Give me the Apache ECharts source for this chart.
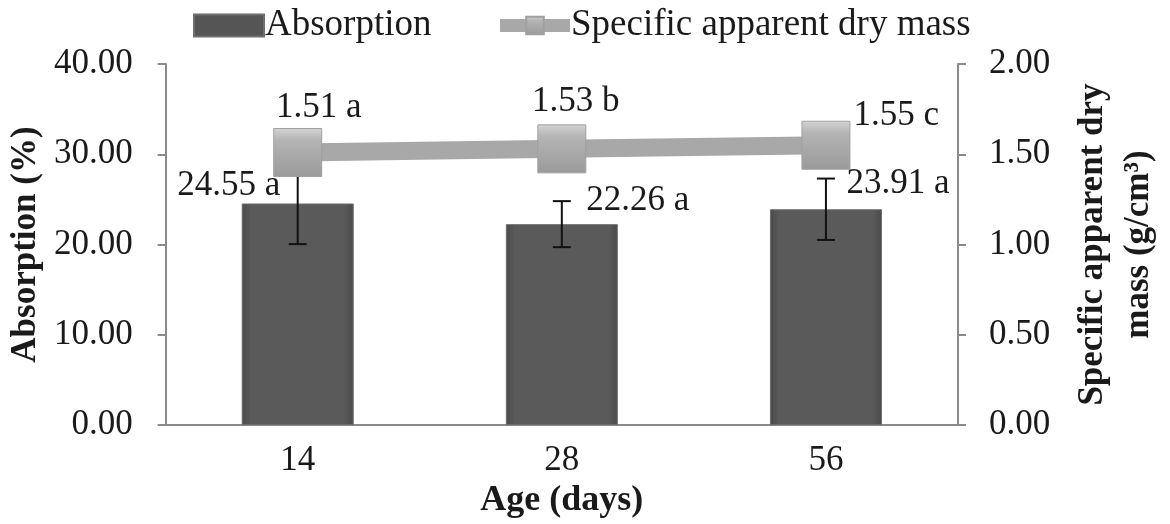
<!DOCTYPE html>
<html>
<head>
<meta charset="utf-8">
<script src="https://cdn.jsdelivr.net/npm/echarts@6/dist/echarts.min.js"></script>
<style>html,body{margin:0;padding:0;background:#fff;overflow:hidden;}#c{width:1170px;height:524px;}</style>
</head>
<body>
<div id="c"></div>
<script>
const categories = ['14', '28', '56'];
const absorption = [24.55, 22.26, 23.91];
const absorptionSD = [4.5, 2.55, 3.4];
const absorptionLetters = ['a', 'a', 'a'];
const density = [1.51, 1.53, 1.55];
const densityLetters = ['a', 'b', 'c'];

const FONT = 'Liberation Serif';
const TXT = '#1a1a1a';
const AX = '#8a8a8a';

// label placement (style only)
const barLabelOffsets = [[-69, 4], [76, -2], [72, -4]];
const lineLabelPos = ['top', 'top', 'right'];
const lineLabelOffsets = [[21, 2], [14, 0], [-2, -29]];

const chart = echarts.init(document.getElementById('c'));
const option = {
  animation: false,
  backgroundColor: '#fff',
  grid: {left: 161, right: 194, top: 64, bottom: 96},
  legend: {
    top: 2, left: 188, itemGap: 62, itemWidth: 70, itemHeight: 22,
    textStyle: {fontFamily: FONT, fontSize: 37, color: TXT, padding: [0, 0, 0, -4]},
    data: [
      {name: 'Absorption', icon: 'rect', itemStyle: {color: '#555'}},
      {name: 'Specific apparent dry mass', lineStyle: {width: 13, color: '#a8a8a8'}}
    ]
  },
  xAxis: {
    type: 'category', data: categories,
    name: 'Age (days)', nameLocation: 'middle', nameGap: 52,
    nameTextStyle: {fontFamily: FONT, fontSize: 36, fontWeight: 'bold', color: TXT},
    axisLine: {lineStyle: {color: AX, width: 2}},
    axisTick: {length: 11, lineStyle: {color: AX, width: 2}},
    axisLabel: {fontFamily: FONT, fontSize: 35, color: TXT, margin: 18}
  },
  yAxis: [
    {
      type: 'value', min: 0, max: 40, interval: 10,
      name: 'Absorption (%)', nameLocation: 'middle', nameGap: 118,
      nameTextStyle: {fontFamily: FONT, fontSize: 35, fontWeight: 'bold', color: TXT},
      axisLine: {show: true, lineStyle: {color: AX, width: 2}},
      axisTick: {show: true, length: 8, lineStyle: {color: AX, width: 2}},
      splitLine: {show: false},
      axisLabel: {fontFamily: FONT, fontSize: 35, color: TXT, margin: 33, formatter: v => v.toFixed(2)}
    },
    {
      type: 'value', min: 0, max: 2, interval: 0.5, position: 'right',
      name: 'Specific apparent dry\nmass (g/cm³)', nameLocation: 'middle', nameGap: 112,
      nameTextStyle: {fontFamily: FONT, fontSize: 35, fontWeight: 'bold', color: TXT, lineHeight: 46},
      axisLine: {show: true, lineStyle: {color: AX, width: 2}},
      axisTick: {show: true, length: 8, lineStyle: {color: AX, width: 2}},
      splitLine: {show: false},
      axisLabel: {fontFamily: FONT, fontSize: 35, color: TXT, margin: 31, formatter: v => v.toFixed(2)}
    }
  ],
  series: [
    {
      name: 'Absorption', type: 'bar', yAxisIndex: 0, barWidth: 112, z: 2,
      itemStyle: {
        color: new echarts.graphic.LinearGradient(0, 0, 1, 0, [
          {offset: 0, color: '#4a4a4a'}, {offset: 0.08, color: '#5a5a5a'},
          {offset: 0.92, color: '#5a5a5a'}, {offset: 1, color: '#4a4a4a'}
        ]),
        borderColor: '#6e6e6e', borderWidth: 1
      },
      label: {
        show: true, position: 'top', distance: 4,
        fontFamily: FONT, fontSize: 35, color: TXT,
        formatter: p => absorption[p.dataIndex].toFixed(2) + ' ' + absorptionLetters[p.dataIndex]
      },
      data: absorption.map((v, i) => ({value: v, label: {offset: barLabelOffsets[i]}}))
    },
    {
      name: 'errors', type: 'custom', yAxisIndex: 0, z: 3, silent: true,
      renderItem: (params, api) => {
        const i = api.value(0);
        const m = api.value(1), s = api.value(2);
        const top = api.coord([i, m + s]);
        const bot = api.coord([i, m - s]);
        const w = 9;
        const st = {stroke: '#111', lineWidth: 2};
        return {type: 'group', children: [
          {type: 'line', shape: {x1: top[0], y1: top[1], x2: bot[0], y2: bot[1]}, style: st},
          {type: 'line', shape: {x1: top[0] - w, y1: top[1], x2: top[0] + w, y2: top[1]}, style: st},
          {type: 'line', shape: {x1: bot[0] - w, y1: bot[1], x2: bot[0] + w, y2: bot[1]}, style: st}
        ]};
      },
      data: absorption.map((v, i) => [i, v, absorptionSD[i]])
    },
    {
      name: 'Specific apparent dry mass', type: 'line', yAxisIndex: 1, z: 5,
      symbol: 'rect', symbolSize: 48,
      lineStyle: {color: '#a8a8a8', width: 18},
      itemStyle: {
        color: new echarts.graphic.LinearGradient(0, 0, 0, 1, [
          {offset: 0, color: '#d4d4d4'}, {offset: 0.25, color: '#b4b4b4'}, {offset: 1, color: '#9a9a9a'}
        ]),
        borderColor: '#a0a0a0', borderWidth: 1
      },
      label: {
        show: true, distance: 5,
        fontFamily: FONT, fontSize: 35, color: TXT,
        formatter: p => density[p.dataIndex].toFixed(2) + ' ' + densityLetters[p.dataIndex]
      },
      data: density.map((v, i) => ({value: v, label: {position: lineLabelPos[i], offset: lineLabelOffsets[i]}}))
    }
  ]
};
chart.setOption(option);
</script>
</body>
</html>
